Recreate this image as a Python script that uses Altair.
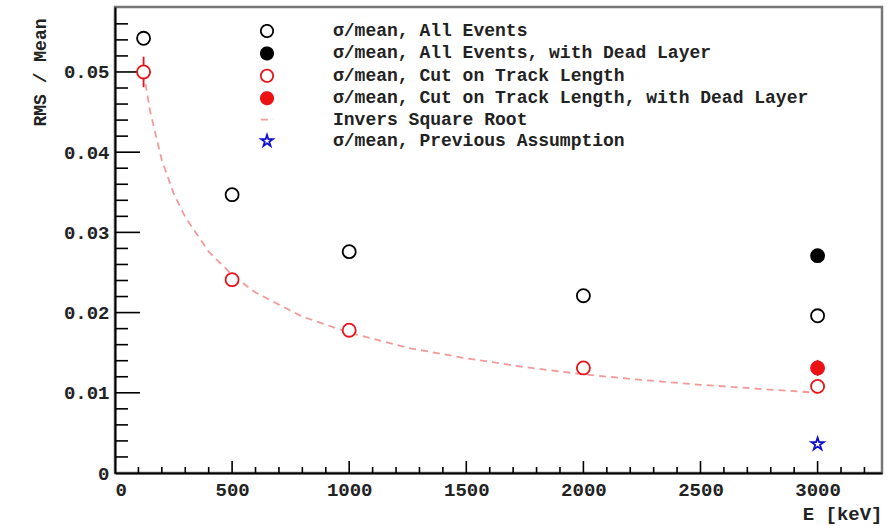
import altair as alt
import pandas as pd

# ---------------- data ----------------
S_ALL = "σ/mean, All Events"
S_ALL_DEAD = "σ/mean, All Events, with Dead Layer"
S_CUT = "σ/mean, Cut on Track Length"
S_CUT_DEAD = "σ/mean, Cut on Track Length, with Dead Layer"
S_CURVE = "Invers Square Root"
S_PREV = "σ/mean, Previous Assumption"
series_names = [S_ALL, S_ALL_DEAD, S_CUT, S_CUT_DEAD, S_CURVE, S_PREV]

E_all = [122, 500, 1000, 2000, 3000]
rms_all = [0.0542, 0.0347, 0.0276, 0.0221, 0.0196]

E_all_dead = [3000]
rms_all_dead = [0.0271]

E_cut = [122, 500, 1000, 2000, 3000]
rms_cut = [0.0500, 0.0241, 0.0178, 0.0131, 0.0108]
err_cut = [0.0019, 0.0003, 0.0003, 0.0003, 0.0004]

E_cut_dead = [3000]
rms_cut_dead = [0.0131]
err_cut_dead = [0.0010]

E_prev = [3000]
rms_prev = [0.0036]

E_curve = [122, 150, 200, 250, 300, 400, 500, 600, 800, 1000, 1250, 1500,
           1750, 2000, 2250, 2500, 2750, 3000]
rms_curve = [0.0500, 0.0451, 0.0390, 0.0349, 0.0319, 0.0276, 0.0247, 0.0225,
             0.0195, 0.0175, 0.0156, 0.0143, 0.0132, 0.0123, 0.0116, 0.0110,
             0.0105, 0.0100]

x_major = [0, 500, 1000, 1500, 2000, 2500, 3000]
x_minor = [100, 200, 300, 400, 600, 700, 800, 900, 1100, 1200, 1300, 1400,
           1600, 1700, 1800, 1900, 2100, 2200, 2300, 2400, 2600, 2700, 2800,
           2900, 3100, 3200]
y_major = [0, 0.01, 0.02, 0.03, 0.04, 0.05]
y_minor = [0.002, 0.004, 0.006, 0.008, 0.012, 0.014, 0.016, 0.018, 0.022,
           0.024, 0.026, 0.028, 0.032, 0.034, 0.036, 0.038, 0.042, 0.044,
           0.046, 0.048, 0.052, 0.054, 0.056]

# ---------------- tables ----------------
pts = pd.concat([
    pd.DataFrame({"series": S_ALL, "E": E_all, "v": rms_all, "err": 0.0}),
    pd.DataFrame({"series": S_ALL_DEAD, "E": E_all_dead, "v": rms_all_dead, "err": 0.0}),
    pd.DataFrame({"series": S_CUT, "E": E_cut, "v": rms_cut, "err": err_cut}),
    pd.DataFrame({"series": S_CUT_DEAD, "E": E_cut_dead, "v": rms_cut_dead, "err": err_cut_dead}),
    pd.DataFrame({"series": S_PREV, "E": E_prev, "v": rms_prev, "err": 0.0}),
], ignore_index=True)
pts["lo"] = pts["v"] - pts["err"]
pts["hi"] = pts["v"] + pts["err"]
errs = pts[pts["err"] > 0]

curve = pd.DataFrame({"series": S_CURVE, "E": E_curve, "v": rms_curve})

W, H = 767, 466
FONT = "Liberation Mono"
STAR = ("M0,-1L0.2245,-0.309L0.951,-0.309L0.363,0.118L0.588,0.809L0,0.382"
        "L-0.588,0.809L-0.363,0.118L-0.951,-0.309L-0.2245,-0.309Z")

xs = alt.Scale(domain=[0, 3275], nice=False, zero=False)
ys = alt.Scale(domain=[0, 0.0581], nice=False, zero=False)

stroke_scale = alt.Scale(domain=series_names,
                         range=["black", "black", "#e8141c", "#e8141c", "#f29a9a", "#1010d0"])
fill_scale = alt.Scale(domain=series_names,
                       range=["white", "black", "white", "#ee1111", "transparent", "transparent"])
shape_scale = alt.Scale(domain=series_names,
                        range=["circle", "circle", "circle", "circle", "stroke", STAR])
dash_scale = alt.Scale(domain=series_names,
                       range=[[1, 0], [1, 0], [1, 0], [1, 0], [7, 5], [1, 0]])

legend = alt.Legend(title=None, orient="none", legendX=143, legendY=15,
                    labelFont=FONT, labelFontSize=18, labelFontWeight="bold",
                    labelColor="#222", labelLimit=0, symbolSize=150, symbolStrokeWidth=1.8,
                    rowPadding=2.4, labelOffset=57, padding=0, symbolLimit=10)

x_axis = alt.Axis(title="E [keV]", values=x_major, format="d", ticks=False, tickSize=0,
                  grid=False, labelFont=FONT, labelFontSize=19, labelFontWeight="bold",
                  labelColor="#222", labelPadding=7, domainColor="black", domainWidth=2,
                  titleFont=FONT, titleFontSize=19, titleFontWeight="bold", titleColor="#222",
                  titleAnchor="end", titleAlign="right", titleX=W, titleY=40,
                  titleBaseline="middle")
y_axis = alt.Axis(title="RMS / Mean", values=y_major, ticks=False, tickSize=0, grid=False,
                  labelExpr="datum.value == 0 ? '0' : format(datum.value, '.2f')",
                  labelFont=FONT, labelFontSize=19, labelFontWeight="bold",
                  labelColor="#222", labelPadding=6, domainColor="black", domainWidth=2,
                  titleFont=FONT, titleFontSize=18, titleFontWeight="bold", titleColor="#222",
                  titleAnchor="end", titleAlign="right", titleX=-75, titleY=11,
                  titleBaseline="middle", titleAngle=270)

line = alt.Chart(curve).mark_line(strokeWidth=1.8).encode(
    x=alt.X("E:Q", scale=xs, axis=x_axis),
    y=alt.Y("v:Q", scale=ys, axis=y_axis),
    stroke=alt.Stroke("series:N", scale=stroke_scale, legend=legend),
    strokeDash=alt.StrokeDash("series:N", scale=dash_scale, legend=legend),
)

bars = alt.Chart(errs).mark_rule(strokeWidth=1.8).encode(
    x=alt.X("E:Q", scale=xs),
    y=alt.Y("lo:Q", scale=ys),
    y2="hi:Q",
    stroke=alt.value("#e8141c"),
)

points = alt.Chart(pts).mark_point(filled=False, size=170, strokeWidth=1.8, opacity=1).encode(
    x=alt.X("E:Q", scale=xs),
    y=alt.Y("v:Q", scale=ys),
    stroke=alt.Stroke("series:N", scale=stroke_scale, legend=legend),
    fill=alt.Fill("series:N", scale=fill_scale, legend=legend),
    shape=alt.Shape("series:N", scale=shape_scale, legend=legend),
)

ytick_major = alt.Chart(pd.DataFrame({"t": y_major[1:]})).mark_rule(color="black", strokeWidth=1.6).encode(
    y=alt.Y("t:Q", scale=ys), x=alt.value(0), x2=alt.value(25))
ytick_minor = alt.Chart(pd.DataFrame({"t": y_minor})).mark_rule(color="black", strokeWidth=1.6).encode(
    y=alt.Y("t:Q", scale=ys), x=alt.value(0), x2=alt.value(13))
xtick_major = alt.Chart(pd.DataFrame({"t": x_major[1:]})).mark_rule(color="black", strokeWidth=1.6).encode(
    x=alt.X("t:Q", scale=xs), y=alt.value(H), y2=alt.value(H - 12))
xtick_minor = alt.Chart(pd.DataFrame({"t": x_minor})).mark_rule(color="black", strokeWidth=1.6).encode(
    x=alt.X("t:Q", scale=xs), y=alt.value(H), y2=alt.value(H - 6))

chart = alt.layer(
    ytick_minor, ytick_major, xtick_minor, xtick_major, line, bars, points
).properties(
    width=W, height=H,
    autosize=alt.AutoSizeParams(type="none"),
    padding={"left": 115, "top": 7, "right": 6, "bottom": 53},
    background="white",
).configure_view(
    stroke="#777", strokeWidth=2.5
)

chart.save("out.html", embed_options={"renderer": "svg", "actions": False})
